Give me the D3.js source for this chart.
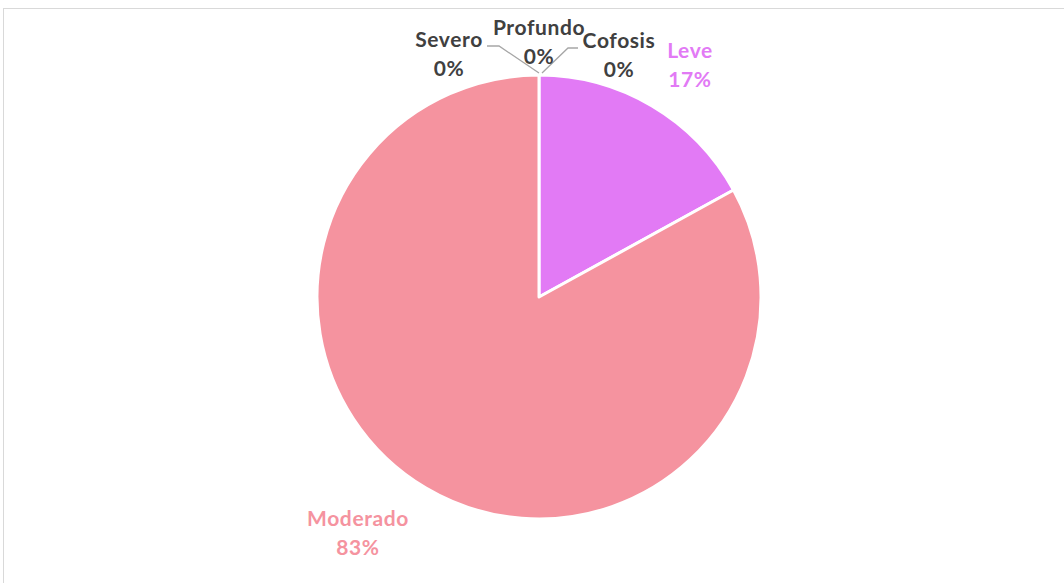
<!DOCTYPE html>
<html>
<head>
<meta charset="utf-8">
<script src="https://cdn.jsdelivr.net/npm/d3@7/dist/d3.min.js"></script>
<style>
  html, body { margin: 0; padding: 0; background: #fff; }
  svg { display: block; }
  text { font-family: Lato, "Open Sans", sans-serif; font-weight: bold; }
</style>
</head>
<body>
<svg id="chart" width="1064" height="583"></svg>
<script>
// Grado de hipoacusia
const categories = ["Leve", "Moderado", "Severo", "Profundo", "Cofosis"];
const values = [17, 83, 0, 0, 0];
const percentLabels = ["17%", "83%", "0%", "0%", "0%"];
const colors = ["#E27AF5", "#F5939F", "#A5A5A5", "#FFC000", "#5B9BD5"];
const labelColors = ["#E27AF5", "#F5939F", "#404040", "#404040", "#404040"];

const W = 1064, H = 583;
const cx = 539, cy = 297, R = 222;

const svg = d3.select("#chart");

// chart area border
svg.append("rect")
  .attr("x", 3.5).attr("y", 8.5)
  .attr("width", W + 10).attr("height", H + 10)
  .attr("fill", "none").attr("stroke", "#D9D9D9").attr("stroke-width", 1);

const data = categories.map((c, i) => ({ name: c, value: values[i], pct: percentLabels[i], i }));

const pie = d3.pie().sort(null).value(d => d.value);
const arcs = pie(data);
const arc = d3.arc().innerRadius(0).outerRadius(R);

const g = svg.append("g").attr("transform", `translate(${cx},${cy})`);

g.selectAll("path.slice")
  .data(arcs.filter(a => a.data.value > 0))
  .join("path")
  .attr("class", "slice")
  .attr("d", arc)
  .attr("fill", d => colors[d.data.i])
  .attr("stroke", "#fff")
  .attr("stroke-width", 3)
  .attr("stroke-linejoin", "round");

// label placement: centre x and first-line baseline, relative to the pie centre
const labelPos = {
  "Leve": [151, -239],
  "Moderado": [-181, -0 + 229],
  "Severo": [-90, -250],
  "Profundo": [0, -262],
  "Cofosis": [80, -249]
};

// leader lines for the zero-value slices
const leaders = {
  "Severo": [[-52, -251], [-40, -251], [0, -224]],
  "Cofosis": [[39, -249], [29, -249], [3, -224]]
};

const lineGen = d3.line();
Object.entries(leaders).forEach(([k, pts]) => {
  g.append("path")
    .attr("d", lineGen(pts))
    .attr("fill", "none")
    .attr("stroke", "#A6A6A6")
    .attr("stroke-width", 1.3);
});

arcs.forEach(a => {
  const p = labelPos[a.data.name];
  const t = g.append("text")
    .attr("text-anchor", "middle")
    .attr("fill", labelColors[a.data.i])
    .attr("font-size", 21)
    .attr("letter-spacing", 0.6);
  t.append("tspan").attr("x", p[0]).attr("y", p[1]).text(a.data.name);
  t.append("tspan").attr("x", p[0]).attr("y", p[1] + 29).text(a.data.pct);
});
</script>
</body>
</html>
